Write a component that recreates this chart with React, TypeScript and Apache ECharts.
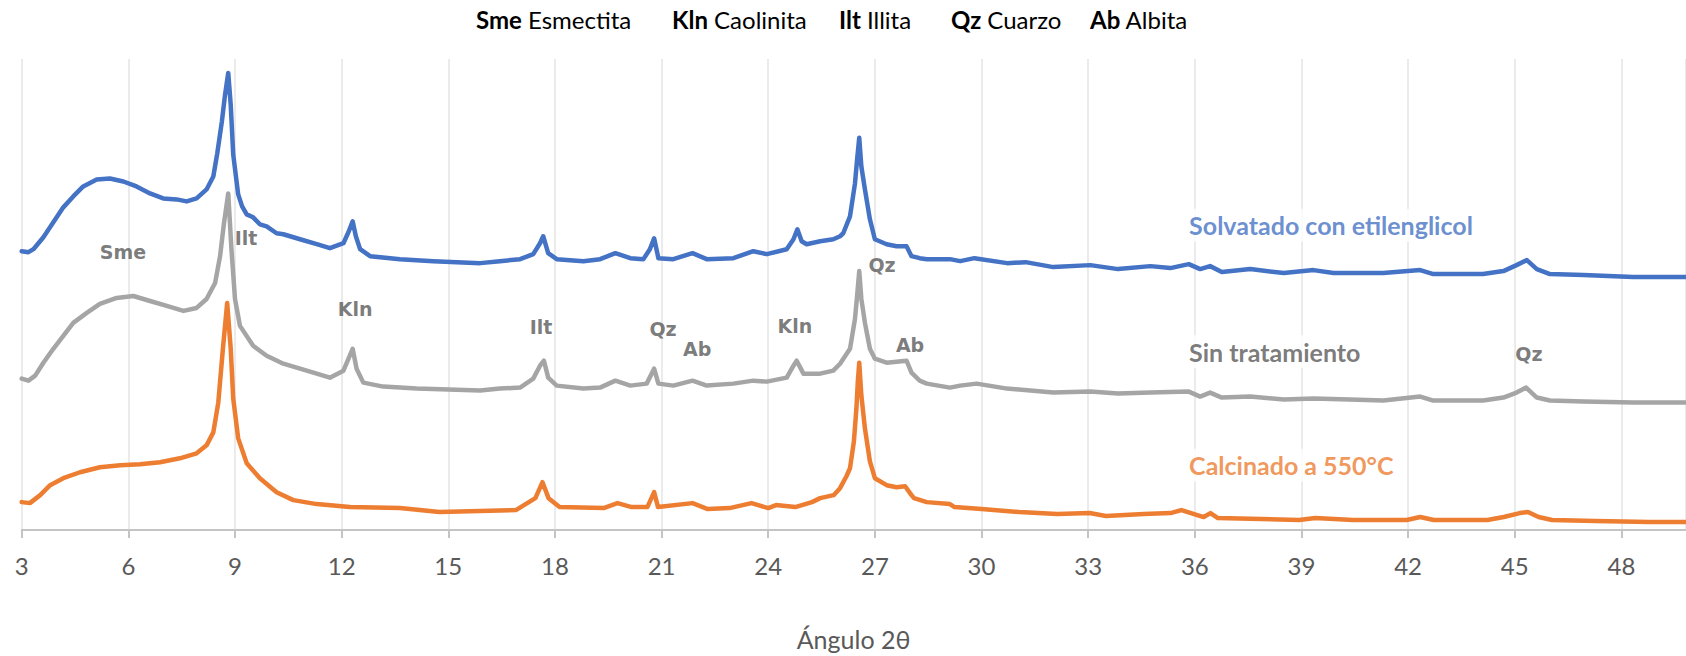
import React, { useEffect, useRef } from "react";
import * as echarts from "echarts";

// Intensity (arbitrary units, offset per pattern) versus 2θ angle
const solvatado: [number, number][] = [
  [3.0, 280], [3.19, 279], [3.33, 282], [3.61, 294], [3.89, 309], [4.17, 324], [4.45, 335], [4.73, 345],
  [5.11, 352], [5.48, 353], [5.86, 350], [6.23, 345], [6.61, 338], [6.98, 333], [7.36, 332], [7.64, 330],
  [7.92, 333], [8.2, 342], [8.39, 355], [8.5, 378], [8.63, 410], [8.72, 437], [8.81, 459], [8.88, 427],
  [8.95, 377], [9.09, 337], [9.2, 325], [9.33, 317], [9.51, 314], [9.7, 307], [9.89, 305], [10.17, 298],
  [10.36, 297], [10.83, 292], [11.3, 287], [11.67, 283], [12.05, 288], [12.19, 299], [12.31, 310], [12.4, 295],
  [12.52, 282], [12.8, 275], [13.64, 272], [14.58, 270], [15.9, 268], [16.45, 270], [17.02, 272], [17.39, 277],
  [17.58, 288], [17.67, 295], [17.81, 278], [18.05, 272], [18.8, 270], [19.27, 272], [19.7, 278], [20.12, 273],
  [20.49, 272], [20.67, 282], [20.79, 293], [20.91, 273], [21.33, 272], [21.87, 278], [22.27, 272], [23.02, 273],
  [23.58, 280], [23.96, 277], [24.52, 282], [24.71, 292], [24.82, 302], [24.94, 290], [25.08, 287], [25.46, 290],
  [25.83, 292], [26.02, 295], [26.11, 298], [26.3, 315], [26.44, 348], [26.5, 372], [26.56, 394], [26.62, 365],
  [26.72, 342], [26.86, 312], [27.0, 292], [27.33, 287], [27.61, 285], [27.89, 285], [28.03, 275], [28.26, 273],
  [28.46, 272], [29.11, 272], [29.4, 270], [29.8, 273], [30.72, 268], [31.24, 269], [32.02, 264], [33.06, 266],
  [33.84, 262], [34.75, 265], [35.31, 263], [35.83, 267], [36.15, 262], [36.43, 265], [36.76, 259], [37.56, 262],
  [38.5, 258], [39.34, 261], [39.9, 258], [41.3, 258], [42.34, 261], [42.71, 257], [44.11, 257], [44.68, 260],
  [45.05, 266], [45.34, 271], [45.62, 262], [45.99, 257], [46.93, 256], [48.33, 254], [49.8, 254],
];

const sinTratamiento: [number, number][] = [
  [3.0, 152], [3.19, 150], [3.38, 155], [3.61, 168], [3.89, 182], [4.17, 195], [4.45, 208], [4.83, 218],
  [5.2, 227], [5.67, 233], [6.14, 235], [6.61, 230], [7.08, 225], [7.55, 220], [7.92, 223], [8.2, 232],
  [8.44, 248], [8.58, 275], [8.69, 308], [8.81, 338], [8.9, 282], [9.0, 232], [9.14, 205], [9.51, 185],
  [9.89, 175], [10.36, 167], [10.83, 162], [11.3, 157], [11.67, 153], [12.05, 160], [12.31, 182], [12.42, 162],
  [12.61, 148], [13.17, 144], [14.11, 142], [15.9, 140], [16.45, 142], [17.02, 143], [17.39, 152], [17.58, 165],
  [17.69, 170], [17.81, 153], [18.05, 145], [18.8, 142], [19.27, 143], [19.7, 150], [20.12, 145], [20.58, 147],
  [20.79, 162], [20.91, 147], [21.33, 145], [21.87, 150], [22.27, 145], [23.02, 147], [23.58, 150], [23.96, 149],
  [24.52, 153], [24.71, 165], [24.8, 170], [24.99, 157], [25.46, 157], [25.83, 160], [26.02, 167], [26.3, 182],
  [26.44, 212], [26.5, 235], [26.56, 260], [26.62, 232], [26.72, 208], [26.86, 182], [27.0, 172], [27.33, 168],
  [27.89, 170], [28.03, 158], [28.26, 150], [28.46, 147], [29.11, 143], [29.4, 145], [29.86, 147], [30.72, 142],
  [32.02, 138], [33.06, 139], [33.84, 137], [34.75, 138], [35.83, 139], [36.15, 134], [36.43, 138], [36.76, 133],
  [37.56, 134], [38.5, 131], [39.34, 132], [40.36, 131], [41.3, 130], [42.34, 134], [42.71, 130], [44.11, 130],
  [44.68, 133], [45.05, 138], [45.32, 143], [45.62, 133], [45.99, 130], [46.93, 129], [48.33, 128], [49.8, 128],
];

const calcinado: [number, number][] = [
  [3.0, 28], [3.23, 27], [3.52, 35], [3.8, 45], [4.17, 52], [4.64, 58], [5.2, 63], [5.77, 65],
  [6.33, 66], [6.89, 68], [7.45, 72], [7.92, 77], [8.2, 85], [8.39, 98], [8.53, 128], [8.66, 182],
  [8.78, 228], [8.88, 182], [8.95, 132], [9.09, 92], [9.33, 67], [9.7, 52], [10.17, 38], [10.64, 30],
  [11.3, 26], [12.23, 23], [13.64, 22], [14.75, 18], [16.9, 20], [17.45, 32], [17.65, 48], [17.82, 32],
  [18.13, 23], [19.37, 22], [19.76, 27], [20.16, 23], [20.6, 23], [20.79, 38], [20.9, 23], [21.87, 27],
  [22.3, 21], [22.91, 22], [23.53, 27], [24.0, 22], [24.22, 25], [24.76, 23], [25.23, 28], [25.46, 32],
  [25.84, 35], [26.02, 42], [26.2, 54], [26.3, 62], [26.41, 89], [26.48, 122], [26.52, 149], [26.56, 168],
  [26.62, 135], [26.72, 102], [26.86, 69], [27.0, 52], [27.33, 45], [27.61, 43], [27.85, 44], [28.03, 35],
  [28.1, 32], [28.46, 28], [29.11, 26], [29.24, 23], [30.0, 21], [31.06, 18], [32.13, 16], [33.04, 17],
  [33.5, 14], [34.56, 16], [35.32, 17], [35.62, 20], [36.07, 15], [36.25, 13], [36.44, 17], [36.65, 12],
  [37.87, 11], [38.93, 10], [39.39, 12], [40.45, 10], [41.96, 10], [42.34, 13], [42.72, 10], [44.23, 10],
  [44.69, 13], [45.14, 17], [45.37, 18], [45.67, 13], [46.05, 10], [47.27, 9], [48.79, 8], [49.8, 8],
];

const seriesNames = ["Solvatado con etilenglicol", "Sin tratamiento", "Calcinado a 550°C"];
const seriesColors = ["#4472C4", "#A5A5A5", "#ED7D31"];
const labelColors = ["#4472C4", "#595959", "#ED7D31"];
const seriesLabelAt: [number, number][] = [[35.67, 306], [35.67, 179], [35.67, 65]];

const peakLabels = [
  { name: "Sme", angle: 5.85, level: 279 },
  { name: "Ilt", angle: 9.31, level: 293 },
  { name: "Kln", angle: 12.38, level: 222 },
  { name: "Ilt", angle: 17.61, level: 204 },
  { name: "Qz", angle: 21.04, level: 202 },
  { name: "Ab", angle: 22.0, level: 182 },
  { name: "Kln", angle: 24.75, level: 205 },
  { name: "Qz", angle: 27.2, level: 266 },
  { name: "Ab", angle: 27.99, level: 186 },
  { name: "Qz", angle: 45.4, level: 177 },
];

const legendItems: [string, string][] = [
  ["Sme", "Esmectita"],
  ["Kln", "Caolinita"],
  ["Ilt", "Illita"],
  ["Qz", "Cuarzo"],
  ["Ab", "Albita"],
];
const legendLeft = [476, 672, 839, 951, 1090];
const axisTitle = "Ángulo 2θ";

export default function App() {
  const ref = useRef<HTMLDivElement>(null);
  useEffect(() => {
    if (!ref.current) return;
    const chart = echarts.init(ref.current, null, { renderer: "svg" });
    const data = [solvatado, sinTratamiento, calcinado];
    const lineSeries = data.map((d, i) => ({
      type: "line",
      name: seriesNames[i],
      data: d,
      showSymbol: false,
      symbol: "none",
      silent: true,
      z: 2 + i,
      lineStyle: { color: seriesColors[i], width: 4.5, join: "round", cap: "round" },
    }));
    const option: any = {
      animation: false,
      grid: { left: 21.7, right: 0.6, top: 59, bottom: 124.3 },
      xAxis: {
        type: "value",
        min: 3,
        max: 49.8,
        interval: 3,
        name: axisTitle,
        nameLocation: "middle",
        nameGap: 96,
        nameTextStyle: { color: "#595959", fontSize: 25, fontFamily: "Lato" },
        axisLine: { show: true, lineStyle: { color: "#C4C4C4", width: 2 } },
        axisTick: { show: true, length: 8, lineStyle: { color: "#C4C4C4", width: 2 } },
        axisLabel: {
          color: "#595959",
          fontSize: 24,
          fontFamily: "Lato",
          margin: 23,
          showMaxLabel: false,
        },
        splitLine: { show: true, lineStyle: { color: "#E4E4E4", width: 1.5 } },
      },
      yAxis: { type: "value", min: 0, max: 473, show: false },
      series: [
        ...lineSeries,
        {
          type: "scatter",
          silent: true,
          z: 10,
          symbolSize: 0,
          data: peakLabels.map((p) => ({ name: p.name, value: [p.angle, p.level] })),
          label: {
            show: true,
            position: "inside",
            formatter: (p: any) => p.name,
            color: "#595959",
            fontSize: 19,
            fontWeight: "bold",
            fontFamily: "DejaVu Sans",
          },
        },
        {
          type: "scatter",
          silent: true,
          z: 10,
          symbolSize: 0,
          data: seriesLabelAt.map((v, i) => ({
            name: seriesNames[i],
            value: v,
            label: { color: labelColors[i] },
          })),
          label: {
            show: true,
            position: "right",
            distance: 0,
            formatter: (p: any) => p.name,
            fontSize: 25,
            fontWeight: "bold",
            fontFamily: "Lato",
            backgroundColor: "#FFFFFF",
            padding: [4, 6],
          },
        },
      ],
      graphic: legendItems.map(([abbr, full], i) => ({
        type: "text",
        left: legendLeft[i],
        top: 7,
        style: {
          text: `{b|${abbr}} ${full}`,
          fill: "#000000",
          fontSize: 24,
          fontFamily: "Lato",
          rich: { b: { fontWeight: "bold", fontSize: 24, fontFamily: "Lato", fill: "#000000" } },
        },
      })),
    };
    chart.setOption(option);
    return () => chart.dispose();
  }, []);
  return (
    <div
      ref={ref}
      style={{ position: "fixed", left: 0, top: 0, width: 1686, height: 656, background: "#FFFFFF" }}
    />
  );
}
